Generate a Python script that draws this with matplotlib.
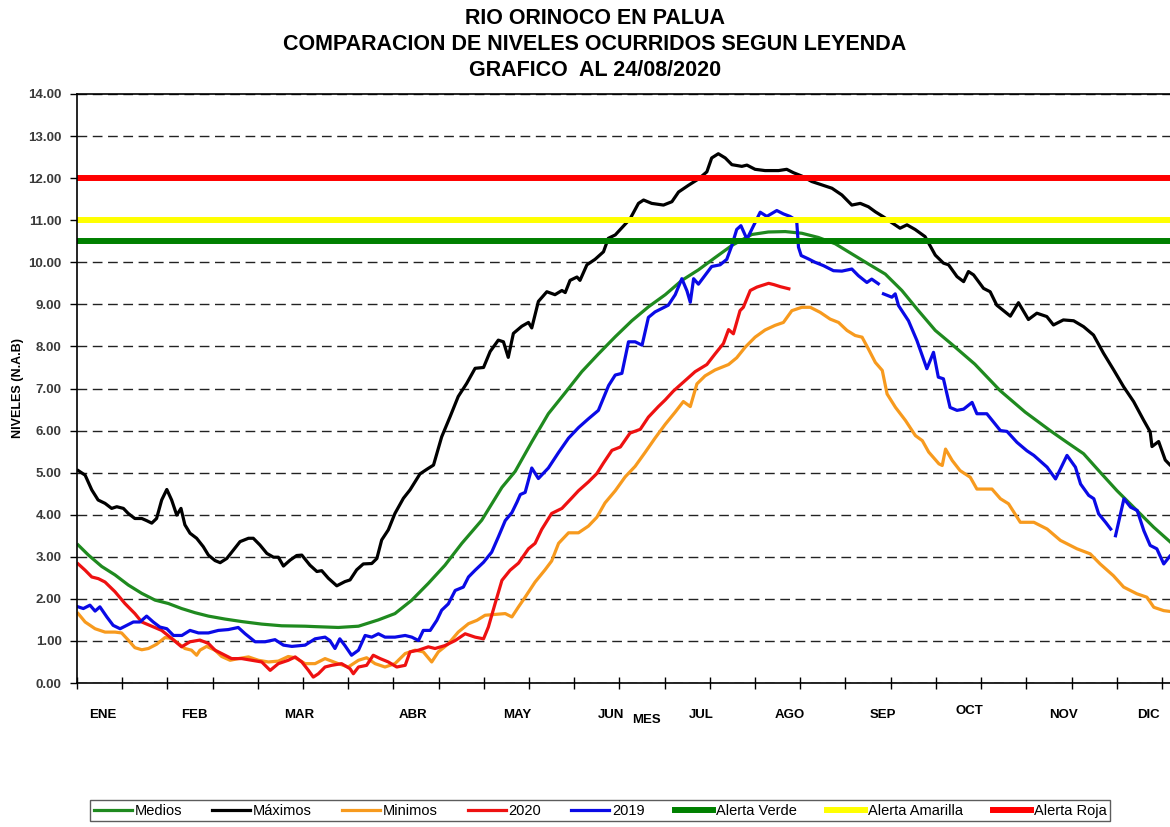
import numpy as np
import matplotlib
matplotlib.use("Agg")
import matplotlib.pyplot as plt
import matplotlib.transforms as mtransforms
from matplotlib import font_manager as fm
from matplotlib.lines import Line2D

nan = np.nan

# ---------------- data (day of year, level in m) ----------------
medios_x = [0.4, 3.8, 8.2, 12.6, 17, 21.5, 25.9, 30.3, 34.7, 39.2, 43.6, 49.1, 54.7, 61.3, 67.9, 75.7, 79, 86.7,
            93.4, 100, 105.5, 111.1, 116.6, 122.1, 127.7, 134.3, 141, 145.4, 150.9, 156.4, 162, 167.5, 173, 178.6,
            184.1, 189.6, 195.2, 200.7, 206.2, 211.7, 217.3, 223.9, 229.4, 235, 240.5, 246, 251.6, 257.1, 262.6,
            268.2, 273.7, 279.2, 284.8, 290.3, 297.9, 306.3, 314.6, 322.9, 328.5, 334, 339.5, 345.1, 351.7, 357.3,
            362.8, 365]
medios_y = [3.28, 3.04, 2.77, 2.57, 2.33, 2.13, 1.97, 1.89, 1.77, 1.67, 1.59, 1.52, 1.46, 1.40, 1.36, 1.35, 1.34, 1.32,
            1.35, 1.50, 1.65, 1.97, 2.37, 2.80, 3.32, 3.87, 4.65, 5.03, 5.73, 6.40, 6.90, 7.40, 7.82, 8.23,
            8.61, 8.94, 9.23, 9.57, 9.82, 10.11, 10.40, 10.66, 10.72, 10.73, 10.69, 10.59, 10.44, 10.20, 9.96,
            9.72, 9.33, 8.85, 8.38, 8.05, 7.58, 6.95, 6.44, 6.00, 5.72, 5.45, 5.01, 4.57, 4.10, 3.70,
            3.35, 3.20]

maximos_x = [0.4, 2.7, 4.9, 7, 9.3, 11.5, 13.2, 15.4, 17, 19.2, 21.5, 23.1, 24.8, 26.4, 28.1, 29.8, 31.4, 33.1, 34.5,
             35.8, 37.5, 39.7, 41.9, 43.6, 45.8, 47.5, 49.7, 51.9, 54.1, 56.9, 58.5, 60.7, 63, 65.2, 66.8, 68.5, 70.7,
             72.9, 74.6, 77.3, 79.6, 81.2, 83.4, 86.2, 88.9, 90.6, 92.8, 95, 97.8, 99.5, 101.1, 103.3, 105.5, 108.3,
             110.5, 113.8, 116.1, 118.3, 121, 123.8, 126.5, 129.3, 132.1, 134.9, 137.1, 139.8, 141.5, 143.1, 144.8,
             147.6, 149.8, 150.9, 153.1, 155.9, 158.6, 160.9, 162, 163.6, 165.9, 166.9, 169.2, 171.9, 174.7, 176.3,
             178.6, 180.8, 183.5, 186.3, 188, 190.7, 194.6, 197.4, 199.6, 202.9, 206.2, 209, 210.6, 212.8, 215.1,
             217.3, 220.6, 222.3, 225, 228.3, 232.8, 235.5, 237.7, 240.5, 243.8, 247.1, 250.5, 253.8, 257.1, 259.9,
             262.6, 264.9, 267.6, 270.4, 273.1, 275.4, 278.1, 281.4, 284.8, 287.5, 289.2, 292, 294.2, 295.8, 297.5,
             300.8, 303, 305.2, 309.7, 312.4, 315.7, 318.5, 321.8, 324, 327.3, 330.7, 334, 337.3, 340.6, 344, 347.3,
             350.6, 353.9, 356.1, 356.7, 358.9, 361.1, 362.7, 365]
maximos_y = [5.05, 4.94, 4.59, 4.35, 4.27, 4.15, 4.19, 4.15, 4.03, 3.91, 3.91, 3.86, 3.80, 3.91, 4.35, 4.60, 4.35, 3.99, 4.15,
             3.76, 3.56, 3.44, 3.24, 3.04, 2.91, 2.86, 2.96, 3.16, 3.36, 3.44, 3.44, 3.28, 3.08, 2.99, 2.99, 2.78, 2.92,
             3.03, 3.04, 2.80, 2.65, 2.67, 2.49, 2.31, 2.41, 2.45, 2.69, 2.83, 2.84, 2.96, 3.40, 3.64, 4.03, 4.39,
             4.59, 4.97, 5.08, 5.18, 5.85, 6.33, 6.81, 7.12, 7.48, 7.50, 7.88, 8.15, 8.11, 7.74, 8.31,
             8.48, 8.57, 8.44, 9.07, 9.30, 9.23, 9.33, 9.28, 9.57, 9.65, 9.57, 9.94, 10.07, 10.25, 10.57,
             10.65, 10.82, 11.03, 11.40, 11.48, 11.40, 11.36, 11.44, 11.67, 11.83, 11.98, 12.15, 12.48, 12.58, 12.48,
             12.32, 12.28, 12.31, 12.21, 12.18, 12.18, 12.21, 12.13, 12.05, 11.92, 11.84, 11.76, 11.60, 11.36, 11.40,
             11.32, 11.20, 11.08, 10.94, 10.81, 10.89, 10.78, 10.61, 10.17, 9.98, 9.94, 9.66, 9.54, 9.78, 9.70,
             9.38, 9.30, 8.98, 8.72, 9.04, 8.64, 8.79, 8.71, 8.51, 8.63, 8.61, 8.47, 8.27, 7.84, 7.44, 7.04,
             6.69, 6.25, 5.97, 5.62, 5.74, 5.30, 5.18, 5.05]

minimos_x = [0.4, 2.7, 6, 9.3, 12.6, 14.8, 17, 19.2, 21.5, 23.7, 26.4, 29.2, 31.4, 33.6, 35.8, 38, 39.7, 40.8, 43,
             45.8, 48, 50.8, 53.5, 56.9, 60.2, 63.5, 66.8, 70.1, 72.4, 75.7, 79, 82.3, 86.7, 90, 93.4, 96.1, 98.9,
             102.2, 105.5, 108.9, 112.2, 114.9, 117.7, 119.9, 123.2, 126.5, 129.9, 132.7, 135.4, 138.7, 142.1, 144.3,
             146.5, 148.7, 152, 155.3, 157.5, 159.8, 163.1, 166.4, 169.7, 172.5, 175.2, 178.6, 181.9, 185.2, 188.5,
             191.8, 195.2, 198.5, 201.2, 203.5, 205.7, 208.4, 211.7, 216.2, 218.9, 221.7, 225, 228.3, 231.6, 234.4,
             237.2, 240.5, 243.3, 246.6, 249.9, 252.7, 255.5, 258.2, 260.5, 262.6, 264.9, 267.2, 268.8, 271.6, 274.9,
             278.2, 280.5, 282.6, 286, 287.1, 288.2, 290.4, 293, 296.4, 298.6, 303.6, 306.4, 309.1, 313, 317.5, 321.9,
             326.3, 331.8, 336.2, 339.5, 343.9, 347.3, 351.7, 355, 357.3, 360.6, 362.8, 365]
minimos_y = [1.65, 1.45, 1.29, 1.21, 1.21, 1.19, 1.02, 0.84, 0.79, 0.82, 0.92, 1.08, 1.06, 0.94, 0.82, 0.78, 0.66, 0.78, 0.87,
             0.78, 0.63, 0.54, 0.58, 0.62, 0.54, 0.50, 0.52, 0.63, 0.60, 0.46, 0.46, 0.58, 0.46, 0.38, 0.54, 0.60, 0.46,
             0.38, 0.46, 0.70, 0.78, 0.74, 0.50, 0.74, 0.93, 1.21, 1.41, 1.49, 1.61, 1.63, 1.65, 1.57,
             1.81, 2.04, 2.40, 2.69, 2.90, 3.32, 3.57, 3.57, 3.73, 3.94, 4.28, 4.57, 4.90, 5.15, 5.48,
             5.82, 6.15, 6.44, 6.69, 6.57, 7.11, 7.30, 7.44, 7.57, 7.73, 7.98, 8.22, 8.39, 8.50, 8.57,
             8.85, 8.93, 8.93, 8.81, 8.65, 8.57, 8.38, 8.26, 8.22, 7.94, 7.62, 7.43, 6.87, 6.55, 6.24,
             5.88, 5.76, 5.49, 5.21, 5.17, 5.56, 5.29, 5.05, 4.89, 4.61, 4.61, 4.38, 4.26, 3.82, 3.82, 3.66,
             3.39, 3.19, 3.07, 2.83, 2.55, 2.28, 2.12, 2.04, 1.80, 1.72, 1.70, 1.66]

y2020_x = [0.4, 2.7, 4.9, 7.1, 9.3, 12.6, 15.9, 19.2, 21.5, 24.8, 28.1, 31.4, 34.7, 37.5, 40.8, 43.6, 45.8, 48, 51.3,
           54.7, 58, 61.3, 64.1, 66.8, 70.1, 72.4, 74.6, 76.8, 78.4, 80.1, 82.3, 84.5, 87.8, 90.6, 91.7, 93.4, 96.1,
           98.3, 100.6, 103.3, 106.1, 108.9, 110.5, 113.3, 116.6, 118.8, 122.1, 125.5, 128.8, 132.1, 134.9, 136.5,
           138.7, 141, 143.7, 146.5, 149.8, 152, 154.2, 157.5, 160.9, 164.2, 166.4, 169.7, 172.5, 174.7, 177.5,
           180.3, 183.5, 186.9, 189.6, 192.9, 195.2, 197.9, 201.2, 205.1, 209, 211.7, 214.5, 216.2, 217.8, 220,
           221.1, 223.4, 225.6, 227.3, 229.5, 231.2, 233.4, 236.2]
y2020_y = [2.83, 2.68, 2.52, 2.48, 2.40, 2.17, 1.89, 1.65, 1.45, 1.35, 1.25, 1.06, 0.86, 0.98, 1.02, 0.94, 0.78, 0.70, 0.58,
           0.58, 0.54, 0.50, 0.30, 0.46, 0.54, 0.62, 0.50, 0.30, 0.14, 0.22, 0.38, 0.42, 0.46, 0.34, 0.22, 0.38, 0.42,
           0.66, 0.58, 0.50, 0.38, 0.42, 0.74, 0.78, 0.86, 0.82, 0.89, 1.01, 1.17, 1.09, 1.05, 1.33,
           1.88, 2.44, 2.68, 2.85, 3.19, 3.32, 3.65, 4.03, 4.15, 4.40, 4.57, 4.78, 4.98, 5.23, 5.53,
           5.61, 5.94, 6.03, 6.32, 6.57, 6.73, 6.94, 7.15, 7.40, 7.57, 7.82, 8.07, 8.40, 8.30, 8.85,
           8.93, 9.33, 9.41, 9.45, 9.50, 9.47, 9.42, 9.37]

y2019_x = [0.4, 2.1, 4.3, 6, 7.6, 9.9, 12, 14.3, 16.5, 18.7, 20.9, 23.1, 25.3, 27.5, 29.8, 32, 34.8, 37.5, 40.3, 43.6,
           46.9, 50.2, 53.5, 55.8, 59.1, 62.4, 65.7, 68.5, 71.3, 75.7, 79, 82.3, 83.9, 85.6, 87.2, 88.9, 91.1, 93.4,
           95.6, 97.8, 100, 102.2, 105.5, 108.9, 111.1, 113.3, 114.9, 117.2, 119.4, 121, 123.2, 125.5, 128.2, 129.9,
           132.1, 134.9, 137.6, 139.8, 142.1, 144.3, 146, 147.1, 148.7, 150.9, 153.1, 156.4, 159.8, 163.1, 166.4,
           169.7, 173, 176.4, 178.6, 180.8, 183, 185.2, 187.5, 189.6, 191.8, 194, 196.2, 198.5, 200.7, 202.4, 203.5,
           204.6, 206.2, 208.4, 210.6, 213.4, 215.6, 217.3, 218.9, 220.3, 222.3, 224.5, 226.7, 228.9, 232.2, 234.4,
           236.6, 238.8, 239.4, 240.3, 242.7, 244.9, 247.7, 251, 253.8, 257.1, 259.3, 262.1, 263.7, 265.9, 266.7,
           267.6, 270.4, 271.5, 272.6, 275.9, 278.7, 282, 284.2, 285.8, 287.5, 289.7, 292, 294.2, 297, 298.6, 301.9,
           306.4, 308.6, 311.9, 315.2, 317.5, 321.9, 324.7, 328.5, 331.3, 333, 335.7, 337.4, 339, 341.3, 343, 343.8,
           344.6, 347.4, 349.6, 351.8, 354, 356.1, 358.3, 360.6, 362.8, 365]
y2019_y = [1.81, 1.77, 1.85, 1.71, 1.81, 1.57, 1.37, 1.29, 1.37, 1.45, 1.45, 1.59, 1.45, 1.33, 1.29, 1.13, 1.13, 1.25, 1.19, 1.19,
           1.25, 1.27, 1.32, 1.17, 0.98, 0.98, 1.03, 0.90, 0.87, 0.90, 1.05, 1.09, 1.01, 0.82, 1.05, 0.89, 0.66, 0.78,
           1.13, 1.09, 1.17, 1.09, 1.09, 1.13, 1.09, 1.01, 1.25, 1.25, 1.49, 1.73, 1.88, 2.20, 2.28, 2.52,
           2.68, 2.87, 3.11, 3.47, 3.86, 4.05, 4.30, 4.48, 4.53, 5.11, 4.86, 5.11, 5.48, 5.82, 6.07,
           6.28, 6.48, 7.07, 7.32, 7.36, 8.11, 8.11, 8.03, 8.69, 8.82, 8.90, 8.98, 9.23, 9.61, 9.32, 9.05,
           9.61, 9.48, 9.69, 9.90, 9.94, 10.07, 10.40, 10.78, 10.87, 10.55, 10.87, 11.19, 11.09, 11.23, 11.15,
           11.09, 10.99, 10.36, 10.16, 10.08, 10.00, 9.92, 9.80, 9.79, 9.84, 9.68, 9.52, 9.60, 9.49, nan,
           9.25, 9.17, 9.25, 8.97, 8.61, 8.14, 7.47, 7.86, 7.27, 7.23, 6.55, 6.48, 6.51, 6.67, 6.40, 6.40,
           6.00, 5.98, 5.72, 5.52, 5.41, 5.13, 4.85, 5.41, 5.13, 4.73, 4.46, 4.38, 4.02, 3.82, 3.66, nan,
           3.50, 4.38, 4.18, 4.10, 3.62, 3.27, 3.19, 2.83, 3.03, 3.10]

alert_levels = [10.5, 11.0, 12.0]
alert_names = ["Alerta Verde", "Alerta Amarilla", "Alerta Roja"]

month_names = ["ENE", "FEB", "MAR", "ABR", "MAY", "JUN", "JUL", "AGO", "SEP", "OCT", "NOV", "DIC"]
month_label_days = [8.6, 38.8, 73.7, 111.5, 146.0, 177.2, 207.1, 236.6, 267.5, 296.0, 327.3, 355.5]

# ---------------- fonts ----------------
def pick(*fams):
    for f in fams:
        try:
            fm.findfont(fm.FontProperties(family=f), fallback_to_default=False)
            return f
        except Exception:
            pass
    return "DejaVu Sans"

SANS = pick("Liberation Sans", "Arial", "DejaVu Sans")
NARROW = pick("Liberation Sans Narrow", "Arial Narrow", "Liberation Sans")
narrow_ok = NARROW != SANS

W, H = 1170, 827
fig = plt.figure(figsize=(W / 100, H / 100), dpi=100)
fig.patch.set_facecolor("white")

x0, x1, ytop, ybot = 77, 1177, 94, 683
ax = fig.add_axes([x0 / W, 1 - ybot / H, (x1 - x0) / W, (ybot - ytop) / H])
ax.set_xlim(0, 365)
ax.set_ylim(0, 14)

# grid
ax.set_yticks(np.arange(0, 15, 1))
ax.set_yticklabels([f"{v:.2f}" for v in np.arange(0, 15, 1)])
ax.yaxis.grid(True, linestyle=(0, (7, 4)), color="#222222", linewidth=1.0)
ax.set_axisbelow(True)
ax.set_xticks(np.arange(0, 366, 15))
ax.set_xticklabels([])

# series
lw = 2.3
c_medios, c_max, c_min, c_2020, c_2019 = "#1f8a1f", "#000000", "#f79a1e", "#ee1111", "#0a0ae6"
l1, = ax.plot(medios_x, medios_y, color=c_medios, lw=lw, label="Medios")
l2, = ax.plot(maximos_x, maximos_y, color=c_max, lw=lw, label="Máximos")
l3, = ax.plot(minimos_x, minimos_y, color=c_min, lw=lw, label="Minimos")
l4, = ax.plot(y2020_x, y2020_y, color=c_2020, lw=lw, label="2020")
l5, = ax.plot(y2019_x, y2019_y, color=c_2019, lw=lw, label="2019")

alert_colors = ["#008000", "#ffff00", "#ff0000"]
alert_lines = []
for lev, name, col in zip(alert_levels, alert_names, alert_colors):
    alert_lines.append(ax.axhline(lev, color=col, lw=4.3, label=name))

# axes styling
for s in ["left", "bottom", "top", "right"]:
    ax.spines[s].set_color("black")
    ax.spines[s].set_linewidth(1.2)
ax.tick_params(axis="y", direction="out", length=5, width=1, pad=6, labelsize=9.5, labelcolor="#3a3a3a")
ax.tick_params(axis="x", direction="inout", length=9, width=1)
for lab in ax.get_yticklabels():
    lab.set_fontfamily(SANS)
    lab.set_fontweight("bold")

# month labels
trans = mtransforms.blended_transform_factory(ax.transData, fig.transFigure)
mfont = dict(family=NARROW, weight="bold", size=11 if narrow_ok else 9.5)
for name, d in zip(month_names, month_label_days):
    ypx = 711 if name == "OCT" else 715
    ax.text(d, 1 - ypx / H, name, transform=trans, ha="center", va="center", clip_on=False, **mfont)
ax.text(188.8, 1 - 720 / H, "MES", transform=trans, ha="center", va="center", clip_on=False, **mfont)

# y label
fig.text(18 / W, 1 - 388 / H, "NIVELES (N.A.B)", rotation=90, ha="center", va="center",
         family=SANS, weight="bold", size=9)

# title
tfont = dict(family=SANS, weight="bold", size=15.5)
fig.text(595 / W, 1 - 18 / H, "RIO ORINOCO EN PALUA", ha="center", va="center", **tfont)
fig.text(595 / W, 1 - 44 / H, "COMPARACION DE NIVELES OCURRIDOS SEGUN LEYENDA", ha="center", va="center", **tfont)
fig.text(595 / W, 1 - 70 / H, "GRAFICO  AL 24/08/2020", ha="center", va="center", **tfont)

# legend
handles = [l1, l2, l3, l4, l5] + alert_lines
labels = [h.get_label() for h in handles]
leg = fig.legend(handles, labels, loc="upper left", ncol=8, mode="expand",
                 bbox_to_anchor=(90 / W, 1 - 826 / H, (1110 - 90) / W, 26 / H),
                 frameon=True, fancybox=False, edgecolor="#333333",
                 prop=dict(family=NARROW, size=12.5 if narrow_ok else 10.5),
                 handlelength=2.6, handletextpad=0.2, borderpad=0.25, columnspacing=0.8,
                 borderaxespad=0)
leg.get_frame().set_linewidth(1.0)

fig.savefig("out.png", dpi=100, facecolor="white")
